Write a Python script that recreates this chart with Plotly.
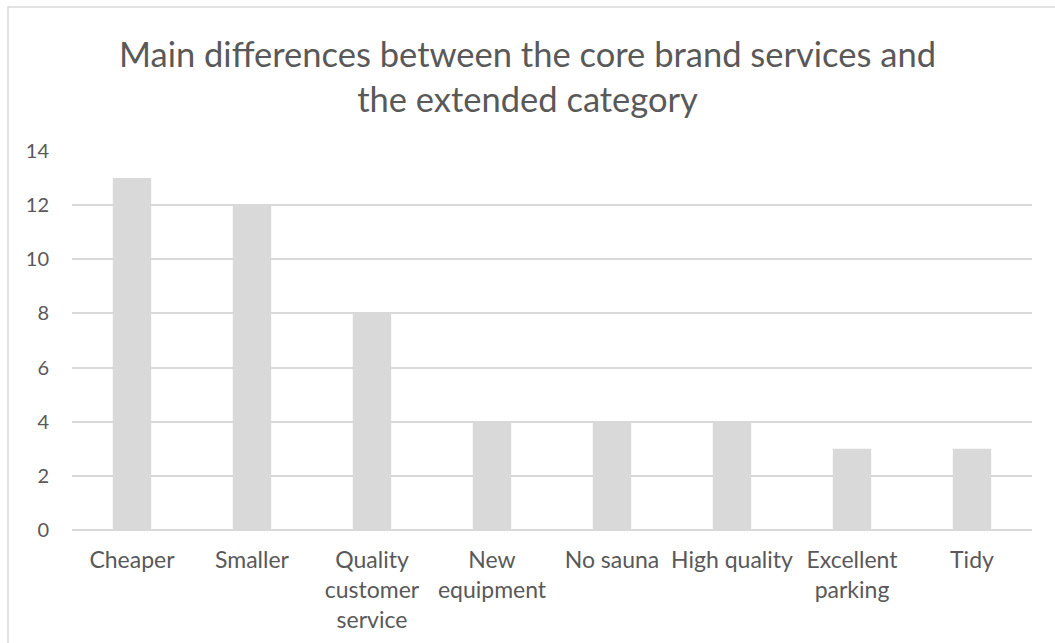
import plotly.graph_objects as go

# Survey answers: what sets the core brand apart from the extended category
categories = [
    "Cheaper",
    "Smaller",
    "Quality<br>customer<br>service",
    "New<br>equipment",
    "No sauna",
    "High quality",
    "Excellent<br>parking",
    "Tidy",
]
counts = [13, 12, 8, 4, 4, 4, 3, 3]
y_ticks = [0, 2, 4, 6, 8, 10, 12, 14]

TEXT = "#595959"
GREY = "#d9d9d9"
FONT = "Lato"

fig = go.Figure(
    go.Bar(
        x=categories,
        y=counts,
        marker=dict(color=GREY, line=dict(width=0)),
        hoverinfo="x+y",
    )
)

W, H = 1055, 643
L, R, T, B = 72, 23, 151, 113
pw, ph = W - L - R, H - T - B

fig.update_layout(
    width=W,
    height=H,
    margin=dict(l=L, r=R, t=T, b=B),
    paper_bgcolor="white",
    plot_bgcolor="white",
    bargap=0.68,
    showlegend=False,
    font=dict(family=FONT, color=TEXT, size=23),
    title=dict(
        text="Main differences between the core brand services and<br>the extended category",
        x=0.5,
        xanchor="center",
        y=1 - 67 / H,
        yanchor="top",
        font=dict(family=FONT, size=34.5, color=TEXT),
    ),
    xaxis=dict(
        automargin=False,
        showgrid=False,
        showline=False,
        zeroline=False,
        ticks="",
        tickangle=0,
        ticklabelstandoff=14,
        tickfont=dict(family=FONT, size=23, color=TEXT),
    ),
    yaxis=dict(
        automargin=False,
        range=[0, 14],
        tickvals=y_ticks,
        showgrid=True,
        gridcolor=GREY,
        gridwidth=1.5,
        zeroline=True,
        zerolinecolor=GREY,
        zerolinewidth=1.5,
        showline=False,
        ticks="",
        ticklabelstandoff=22,
        tickfont=dict(family=FONT, size=20, color=TEXT),
    ),
    shapes=[
        dict(
            type="rect",
            xref="paper",
            yref="paper",
            x0=(8 - L) / pw,
            x1=(W + 10 - L) / pw,
            y0=-(H + 10 - (H - B)) / ph,
            y1=(H - B - 7) / ph,
            line=dict(color=GREY, width=1.5),
            fillcolor="rgba(0,0,0,0)",
            layer="below",
        )
    ],
)

fig.write_html("out.html")
